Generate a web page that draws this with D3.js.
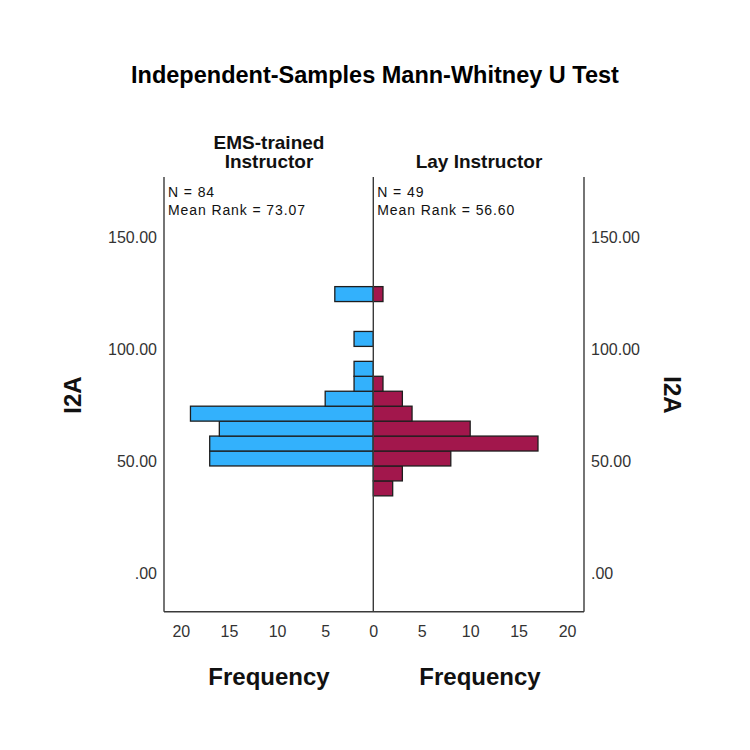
<!DOCTYPE html>
<html>
<head>
<meta charset="utf-8">
<script src="https://cdn.jsdelivr.net/npm/d3@7"></script>
<style>
  html, body { margin: 0; padding: 0; background: #ffffff; }
  svg { display: block; font-family: "Liberation Sans", Arial, sans-serif; }
</style>
</head>
<body>
<svg id="chart" width="750" height="750"></svg>
<script>
// ---------- DATA ----------
const title = "Independent-Samples Mann-Whitney U Test";
const groups = ["EMS-trained Instructor", "Lay Instructor"];
const groupN = [84, 49];
const meanRanks = ["73.07", "56.60"];
const variableName = "I2A";
// lower edge of each I2A bin (value units), bin width
const binLower = [34.60, 41.27, 47.94, 54.61, 61.28, 67.95, 74.62, 81.29, 87.96, 94.63, 101.30, 107.97, 114.64, 121.31];
const binWidth = 6.67;
const emsFreq = [0, 0, 17, 17, 16, 19, 5, 2, 2, 0, 2, 0, 0, 4];
const layFreq = [2, 3, 8, 17, 10, 4, 3, 1, 0, 0, 0, 0, 0, 1];
const yTicks = [0, 50, 100, 150];
const xTicks = [0, 5, 10, 15, 20];
const yDomain = [-17.1, 176.9];
const xMax = 21.75;

// ---------- LAYOUT ----------
const svg = d3.select("#chart");
const pLeft = 164, pRight = 584, pCenter = 373.3, pTop = 177, pBottom = 611.7;

const y = d3.scaleLinear().domain(yDomain).range([pBottom, pTop]);
const xL = d3.scaleLinear().domain([0, xMax]).range([pCenter, pLeft]);
const xR = d3.scaleLinear().domain([0, xMax]).range([pCenter, pRight]);

const blue = "#33b1fc", maroon = "#a2174c";
const edge = "#1e1e1e";

// Title
svg.append("text")
  .attr("x", 375).attr("y", 75)
  .attr("text-anchor", "middle").attr("dominant-baseline", "central")
  .style("font-size", "23.5px").style("font-weight", "bold").attr("fill", "#000")
  .text(title);

// Group headers
const hdr = svg.append("g").style("font-size", "19px").style("font-weight", "bold").attr("fill", "#111");
hdr.append("text").attr("x", 269).attr("y", 142).attr("text-anchor", "middle").attr("dominant-baseline", "central").text("EMS-trained");
hdr.append("text").attr("x", 269).attr("y", 161.5).attr("text-anchor", "middle").attr("dominant-baseline", "central").text("Instructor");
hdr.append("text").attr("x", 479).attr("y", 161.5).attr("text-anchor", "middle").attr("dominant-baseline", "central").text(groups[1]);

// Bars
const bins = binLower.map((b, i) => ({ lo: b, hi: b + binWidth, ems: emsFreq[i], lay: layFreq[i] }));

svg.append("g").selectAll("rect").data(bins.filter(d => d.ems > 0)).join("rect")
  .attr("x", d => xL(d.ems)).attr("width", d => xL(0) - xL(d.ems))
  .attr("y", d => y(d.hi)).attr("height", d => y(d.lo) - y(d.hi))
  .attr("fill", blue).attr("stroke", edge).attr("stroke-width", 1.3);

svg.append("g").selectAll("rect").data(bins.filter(d => d.lay > 0)).join("rect")
  .attr("x", xR(0)).attr("width", d => xR(d.lay) - xR(0))
  .attr("y", d => y(d.hi)).attr("height", d => y(d.lo) - y(d.hi))
  .attr("fill", maroon).attr("stroke", edge).attr("stroke-width", 1.3);

// Frame lines
const frame = svg.append("g").attr("stroke", "#3a3a3a").attr("stroke-width", 1.4).attr("fill", "none");
frame.append("line").attr("x1", pLeft).attr("x2", pLeft).attr("y1", pTop).attr("y2", pBottom);
frame.append("line").attr("x1", pRight).attr("x2", pRight).attr("y1", pTop).attr("y2", pBottom);
frame.append("line").attr("x1", pCenter).attr("x2", pCenter).attr("y1", pTop).attr("y2", pBottom);
frame.append("line").attr("x1", pLeft).attr("x2", pRight).attr("y1", pBottom).attr("y2", pBottom);

// Y axes
const fmt = d => d === 0 ? ".00" : d.toFixed(2);
const yAxL = svg.append("g").attr("transform", `translate(${pLeft},0)`)
  .call(d3.axisLeft(y).tickValues(yTicks).tickFormat(fmt).tickSize(0).tickPadding(7));
const yAxR = svg.append("g").attr("transform", `translate(${pRight},0)`)
  .call(d3.axisRight(y).tickValues(yTicks).tickFormat(fmt).tickSize(0).tickPadding(7));

// X axes
const xAxL = svg.append("g").attr("transform", `translate(0,${pBottom})`)
  .call(d3.axisBottom(xL).tickValues(xTicks).tickFormat(d3.format("d")).tickSize(0).tickPadding(14));
const xAxR = svg.append("g").attr("transform", `translate(0,${pBottom})`)
  .call(d3.axisBottom(xR).tickValues(xTicks.filter(d => d > 0)).tickFormat(d3.format("d")).tickSize(0).tickPadding(14));

[yAxL, yAxR, xAxL, xAxR].forEach(g => {
  g.select(".domain").remove();
  g.selectAll("text").style("font-size", "16px").style("font-family", "'Liberation Sans', Arial, sans-serif").attr("fill", "#333");
});
[yAxL, yAxR].forEach(g => g.selectAll("text").attr("dy", null).attr("dominant-baseline", "central"));

// Annotations
const ann = svg.append("g").style("font-size", "14px").style("letter-spacing", "0.9px").attr("fill", "#111");
[[pLeft + 4, 0], [pCenter + 4, 1]].forEach(([x, i]) => {
  ann.append("text").attr("x", x).attr("y", 191.5).attr("dominant-baseline", "central").text(`N = ${groupN[i]}`);
  ann.append("text").attr("x", x).attr("y", 209.5).attr("dominant-baseline", "central").text(`Mean Rank = ${meanRanks[i]}`);
});

// Axis titles
const at = svg.append("g").style("font-size", "24px").style("font-weight", "bold").attr("fill", "#111");
at.append("text").attr("x", 269).attr("y", 676).attr("text-anchor", "middle").attr("dominant-baseline", "central").text("Frequency");
at.append("text").attr("x", 480).attr("y", 676).attr("text-anchor", "middle").attr("dominant-baseline", "central").text("Frequency");
at.append("text").attr("transform", "translate(72,395) rotate(-90)").attr("text-anchor", "middle").attr("dominant-baseline", "central").text(variableName);
at.append("text").attr("transform", "translate(672,395) rotate(90)").attr("text-anchor", "middle").attr("dominant-baseline", "central").text(variableName);
</script>
</body>
</html>
